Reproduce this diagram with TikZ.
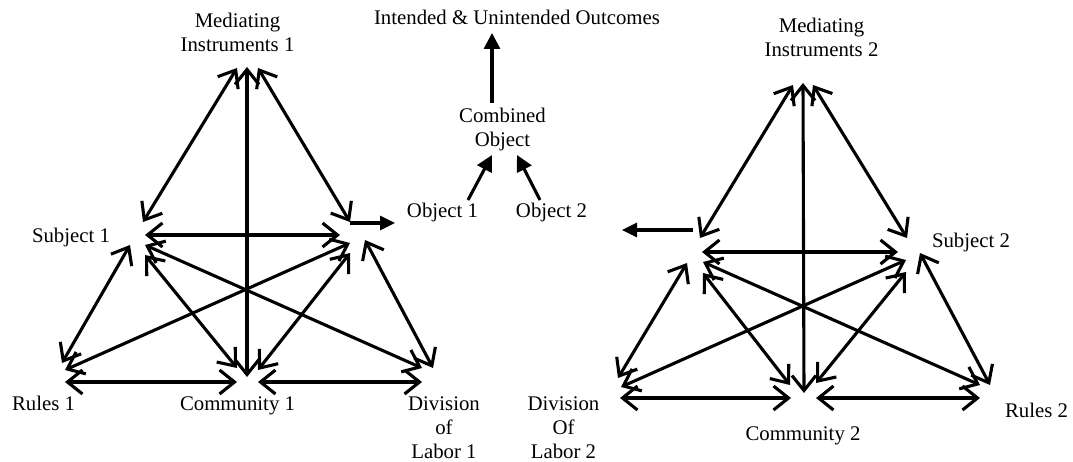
\documentclass[tikz,border=0pt]{standalone}
\usepackage{fontspec}
\setmainfont{Liberation Serif}
\usetikzlibrary{arrows.meta}
\begin{document}
\begin{tikzpicture}[x=1pt,y=-1pt,
  lbl/.style={font=\fontsize{20.8}{24}\selectfont, inner sep=0pt, align=center, anchor=base},
  link/.style={line width=3.1pt, {Straight Barb[length=15pt,width=24pt]}-{Straight Barb[length=15pt,width=24pt]}},
  flow/.style={line width=3.1pt, -{Triangle[length=15pt,width=14pt]}},
  bigflow/.style={flow, -{Triangle[length=16pt,width=16pt]}}]
\useasboundingbox (0,0) rectangle (1073,462);
% labels (multi-line labels are placed by the baseline of their last line)
\node[lbl] (m1) at (237.5,52) {Mediating\\Instruments 1};
\node[lbl] (s1) at (71,243) {Subject 1};
\node[lbl] (r1) at (43.5,410) {Rules 1};
\node[lbl] (c1) at (237.5,410) {Community 1};
\node[lbl] (d1) at (444,458) {Division\\of\\Labor 1};
\node[lbl] (out) at (517,25) {Intended \& Unintended Outcomes};
\node[lbl] (comb) at (502.5,147) {Combined\\Object};
\node[lbl] (ob1) at (442.5,218) {Object 1};
\node[lbl] (ob2) at (551.5,218) {Object 2};
\node[lbl] (m2) at (821.5,57) {Mediating\\Instruments 2};
\node[lbl] (s2) at (971,248) {Subject 2};
\node[lbl] (r2) at (1036.5,417) {Rules 2};
\node[lbl] (c2) at (803,440) {Community 2};
\node[lbl] (d2) at (563.5,458) {Division\\Of\\Labor 2};
% left triangle end points
\coordinate (m1v) at (247,67);
\coordinate (m1l) at (237,68);
\coordinate (m1r) at (258,68);
\coordinate (s1d) at (143,222);
\coordinate (s1h) at (145,235);
\coordinate (s1r) at (130,245);
\coordinate (s1x) at (145,245);
\coordinate (s1c) at (145,255);
\coordinate (p1d) at (350,222);
\coordinate (p1h) at (340,235);
\coordinate (p1r) at (350,243);
\coordinate (p1c) at (350,253);
\coordinate (p1x) at (365,240);
\coordinate (r1s) at (62,363);
\coordinate (r1p) at (65,370);
\coordinate (r1c) at (65,382);
\coordinate (c1v) at (247,377);
\coordinate (c1s) at (237,368);
\coordinate (c1p) at (258,370);
\coordinate (c1l) at (237,382);
\coordinate (c1r) at (258,382);
\coordinate (d1s) at (422,368);
\coordinate (d1p) at (433,368);
\coordinate (d1c) at (422,382);
\coordinate (p1o) at (350,223);
\coordinate (o1in) at (395,223);
% right triangle end points
\coordinate (m2v) at (803,83);
\coordinate (m2l) at (793,85);
\coordinate (m2r) at (813,85);
\coordinate (p2d) at (700,238);
\coordinate (p2h) at (702,252);
\coordinate (p2x) at (687,263);
\coordinate (p2r) at (703,262);
\coordinate (p2c) at (703,273);
\coordinate (s2d) at (907,238);
\coordinate (s2h) at (898,252);
\coordinate (s2x) at (906,260);
\coordinate (s2c) at (906,272);
\coordinate (s2r) at (920,253);
\coordinate (d2p) at (618,378);
\coordinate (d2s) at (621,387);
\coordinate (d2c) at (620,398);
\coordinate (c2v) at (804,393);
\coordinate (c2p) at (790,385);
\coordinate (c2s) at (816,383);
\coordinate (c2l) at (791,398);
\coordinate (c2r) at (816,398);
\coordinate (r2p) at (980,385);
\coordinate (r2s) at (990,385);
\coordinate (r2c) at (980,398);
\coordinate (p2o) at (693,230);
\coordinate (o2in) at (622,230);
% centre end points
\coordinate (cbt) at (492,103);
\coordinate (outb) at (492,33);
\coordinate (o1t) at (468,200);
\coordinate (cb1) at (492,155);
\coordinate (o2t) at (540,200);
\coordinate (cb2) at (517,155);
% left triangle
\draw[link] (m1l) -- (s1d);
\draw[link] (m1r) -- (p1d);
\draw[link] (m1v) -- (c1v);
\draw[link] (s1h) -- (p1h);
\draw[link] (s1r) -- (r1s);
\draw[link] (s1x) -- (d1s);
\draw[link] (s1c) -- (c1s);
\draw[link] (p1r) -- (r1p);
\draw[link] (p1c) -- (c1p);
\draw[link] (p1x) -- (d1p);
\draw[link] (r1c) -- (c1l);
\draw[link] (c1r) -- (d1c);
% right triangle
\draw[link] (m2l) -- (p2d);
\draw[link] (m2r) -- (s2d);
\draw[link] (m2v) -- (c2v);
\draw[link] (p2h) -- (s2h);
\draw[link] (p2x) -- (d2p);
\draw[link] (p2r) -- (r2p);
\draw[link] (p2c) -- (c2p);
\draw[link] (s2x) -- (d2s);
\draw[link] (s2c) -- (c2s);
\draw[link] (s2r) -- (r2s);
\draw[link] (d2c) -- (c2l);
\draw[link] (c2r) -- (r2c);
% flows
\draw[flow] (p1o) -- (o1in);
\draw[flow] (p2o) -- (o2in);
\draw[bigflow] (o1t) -- (cb1);
\draw[bigflow] (o2t) -- (cb2);
\draw[bigflow] (cbt) -- (outb);
\end{tikzpicture}
\end{document}
